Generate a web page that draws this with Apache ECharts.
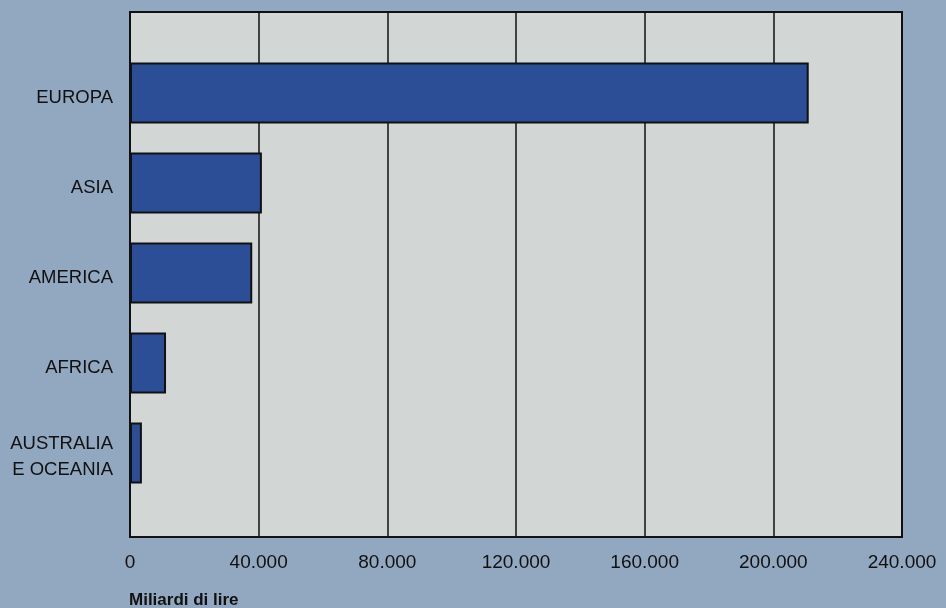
<!DOCTYPE html>
<html><head><meta charset="utf-8">
<script src="https://cdn.jsdelivr.net/npm/echarts@6/dist/echarts.min.js"></script>
<style>html,body{margin:0;padding:0;background:#92a7c0;}#c{width:946px;height:608px;}</style>
</head><body><div id="c"></div>
<script>
const categories = ['EUROPA', 'ASIA', 'AMERICA', 'AFRICA', 'AUSTRALIA\nE OCEANIA'];
const values = [211000, 41000, 38000, 11200, 3700];
const xTicks = [0, 40000, 80000, 120000, 160000, 200000, 240000];
const axisTitle = 'Miliardi di lire';

const fmt = v => v === 0 ? '0' : (v / 1000).toFixed(0) + '.000';
const font = '"Liberation Sans", Arial, sans-serif';
const catFmt = v => v.split('\n').map((s, i) => (i === 0 ? '{f|' : '{n|') + s + '}').join('\n');
const chart = echarts.init(document.getElementById('c'));
chart.setOption({
  backgroundColor: '#92a7c0',
  animation: false,
  title: { text: axisTitle, left: 124, top: 587, textStyle: { fontFamily: font, fontSize: 17, fontWeight: 'bold', color: '#111' } },
  grid: [
    { left: 130, right: 44, top: 12, bottom: 71, show: true, backgroundColor: '#d2d7d6', borderColor: '#111', borderWidth: 2 },
    { left: 130, right: 44, top: 48, bottom: 110 }
  ],
  xAxis: [
    { gridIndex: 0, type: 'value', min: xTicks[0], max: xTicks[xTicks.length - 1], interval: 40000,
      axisLine: { show: false }, axisTick: { show: false },
      splitLine: { show: true, lineStyle: { color: '#111', width: 1.5 } },
      axisLabel: { margin: 16, fontFamily: font, fontSize: 19, color: '#111', formatter: fmt } },
    { gridIndex: 1, type: 'value', min: xTicks[0], max: xTicks[xTicks.length - 1], show: false }
  ],
  yAxis: [
    { gridIndex: 0, type: 'value', show: false },
    { gridIndex: 1, type: 'category', data: categories, inverse: true,
      axisLine: { show: false }, axisTick: { show: false },
      axisLabel: { margin: 17, align: 'right', formatter: catFmt,
        rich: {
          f: { fontFamily: font, fontSize: 18.5, color: '#111', lineHeight: 28, padding: [10, 0, 0, 0], align: 'right' },
          n: { fontFamily: font, fontSize: 18.5, color: '#111', lineHeight: 28, padding: [6, 0, 0, 0], align: 'right' }
        } } }
  ],
  series: [{
    type: 'bar', xAxisIndex: 1, yAxisIndex: 1, data: values, barWidth: 61,
    itemStyle: { color: '#2b4e96', borderColor: '#111', borderWidth: 2 }
  }]
});
</script></body></html>
